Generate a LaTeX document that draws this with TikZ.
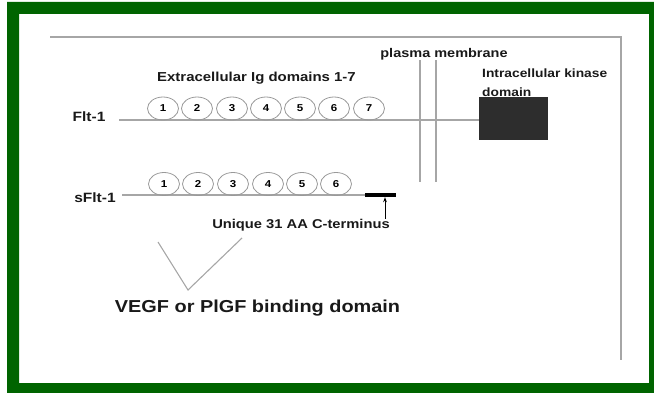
\documentclass[tikz,border=0pt]{standalone}
\usepackage{fontspec}
\setmainfont{Liberation Sans}[FakeStretch=1.15]
\usetikzlibrary{shapes.geometric,arrows.meta}
\definecolor{framegreen}{RGB}{0,100,0}
\definecolor{kinasegray}{RGB}{45,45,45}

\begin{document}
\begin{tikzpicture}[x=1pt,y=-1pt,
		memline/.style={draw=gray!70,line width=1.1pt},
		igdom/.style={ellipse,draw=gray!80,line width=0.8pt,minimum width=31,minimum height=23,inner sep=0pt,font=\bfseries\fontsize{10}{10}\selectfont},
		lbl/.style={inner sep=0pt,text=black!90,font=\bfseries\fontsize{#1}{#1}\selectfont}]
			\useasboundingbox (0,0) rectangle (654,393);
			\fill[framegreen,even odd rule] (7,2) rectangle (654,393) (19,14) rectangle (649,383); % frame
			\coordinate (TL) at (50,37);
			\coordinate (TR) at (621,37);
			\coordinate (BR) at (621,360);
			\draw[memline] (TL) -- (TR) -- (BR);
			% membrane
			\node[lbl=12.6] (pm) at (444,54) {plasma membrane};
			\coordinate (m1) at (420,182);
			\coordinate (m2) at (436,182);
			\draw[memline] (pm.south -| m1) -- (m1);
			\draw[memline] (pm.south -| m2) -- (m2);
			% Flt-1
			\node[lbl=13.5] (flt) at (89,117) {Flt-1};
			\node[lbl=12,align=left,anchor=west,font=\bfseries\fontsize{12}{19}\selectfont] (kintext) at (482,82.5) {Intracellular kinase\\domain};
			\node[fill=kinasegray,minimum width=69,minimum height=43,inner sep=0pt] (kinase) at (513.5,118.5) {};
			\coordinate (fltstart) at (119,120);
			\draw[memline] (fltstart) -- (fltstart -| kinase.west);
			\node[lbl=13] (extra) at (256.5,78) {Extracellular Ig domains 1-7};
			\node[igdom] (f1) at (163,108.5) {1};
			\node[igdom] (f2) at (197,108.5) {2};
			\node[igdom] (f3) at (232,108.5) {3};
			\node[igdom] (f4) at (266,108.5) {4};
			\node[igdom] (f5) at (300,108.5) {5};
			\node[igdom] (f6) at (334,108.5) {6};
			\node[igdom] (f7) at (369,108.5) {7};
			% sFlt-1
			\node[lbl=13.5] (sflt) at (95,198) {sFlt-1};
			\coordinate (sfltstart) at (122,195);
			\node[fill=black,minimum width=31,minimum height=4,inner sep=0pt] (cterm) at (380.5,195) {};
			\draw[memline] (sfltstart) -- (cterm.west);
			\node[igdom] (s1) at (164,184) {1};
			\node[igdom] (s2) at (198,184) {2};
			\node[igdom] (s3) at (233,184) {3};
			\node[igdom] (s4) at (268,184) {4};
			\node[igdom] (s5) at (302,184) {5};
			\node[igdom] (s6) at (336,184) {6};
			\node[lbl=12.8] (uniq) at (301,225) {Unique 31 AA C-terminus};
			\coordinate (tip) at (385,0);
			\draw[-{Stealth[length=5pt]},line width=0.8pt] (uniq.north -| tip) -- (cterm.south -| tip);
			% binding domain
			\coordinate (v1) at (158,242);
			\coordinate (v2) at (188,290);
			\coordinate (v3) at (242,238);
			\draw[memline] (v1) -- (v2) -- (v3);
			\node[lbl=17.3] (vegf) at (257.5,308) {VEGF or PlGF binding domain};
		\end{tikzpicture}
\end{document}
